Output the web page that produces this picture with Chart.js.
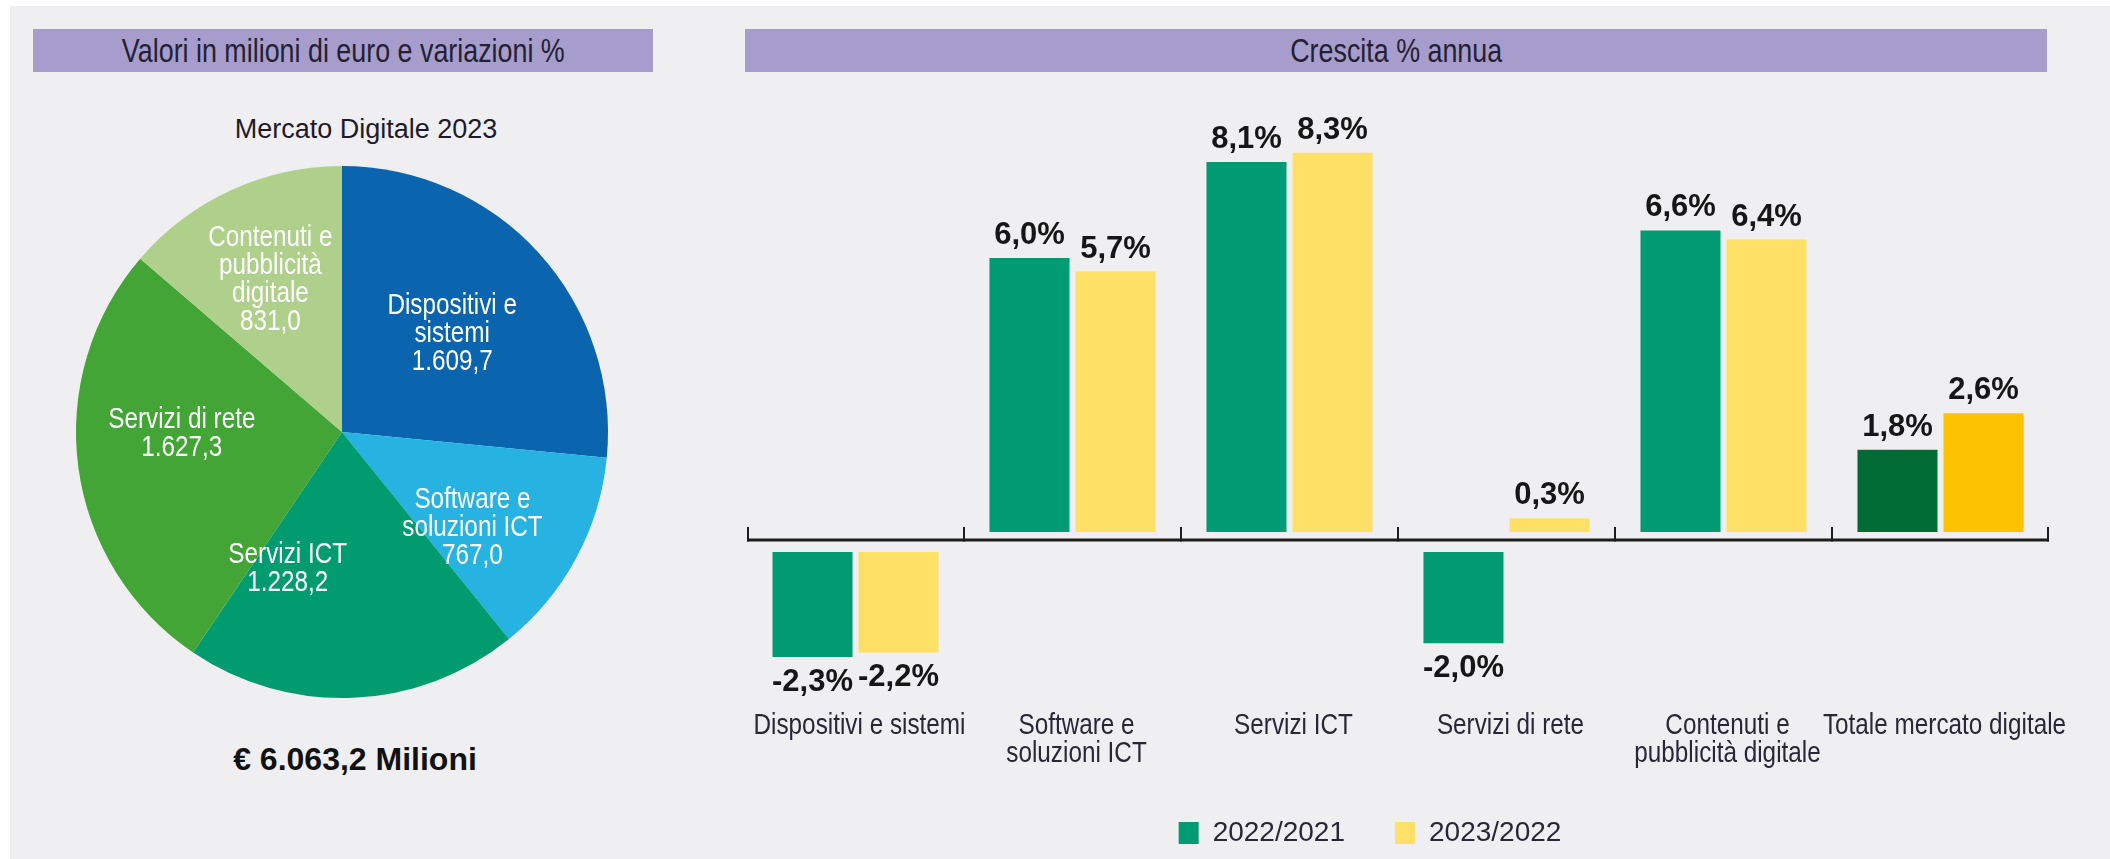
<!DOCTYPE html>
<html>
<head>
<meta charset="utf-8">
<script src="https://cdn.jsdelivr.net/npm/chart.js@4.4.1/dist/chart.umd.min.js"></script>
<style>
  html, body { margin: 0; padding: 0; background: #ffffff; width: 2110px; height: 859px; overflow: hidden; }
  #panel { position: absolute; left: 10px; top: 6px; right: 0; bottom: 0; background: #EFEFF1; }
  .hdr { position: absolute; height: 43px; line-height: 43px; background: #A69DCD; color: #241f33;
         font-family: "Liberation Sans", sans-serif; font-size: 34px; text-align: center; white-space: nowrap; }
  .hdr span { display: inline-block; transform: scaleX(0.79); transform-origin: center; }
  #pieTitle { position: absolute; left: 166px; width: 400px; top: 114px; text-align: center; color: #1e1a2a;
         font-family: "Liberation Sans", sans-serif; font-size: 27px; }
  #total { position: absolute; left: 155px; width: 400px; top: 741px; text-align: center; color: #111;
         font-family: "Liberation Sans", sans-serif; font-size: 32px; font-weight: bold; }
  canvas { position: absolute; top: 0; }
</style>
</head>
<body>
<div id="panel"></div>
<div class="hdr" style="left:33px; top:29px; width:620px;"><span>Valori in milioni di euro e variazioni %</span></div>
<div class="hdr" style="left:745px; top:29px; width:1302px;"><span>Crescita % annua</span></div>
<div id="pieTitle">Mercato Digitale 2023</div>
<div id="total"></div>
<canvas id="pie" width="700" height="859" style="left:0;"></canvas>
<canvas id="bar" width="1410" height="859" style="left:700px;"></canvas>
<script>
// ---------- DATA ----------
const pieLabels = [["Dispositivi e", "sistemi"], ["Software e", "soluzioni ICT"], ["Servizi ICT"], ["Servizi di rete"], ["Contenuti e", "pubblicità", "digitale"]];
const pieValues = [1609.7, 767.0, 1228.2, 1627.3, 831.0];
const totalText = "€ 6.063,2 Milioni";

const barCategories = [["Dispositivi e sistemi"], ["Software e", "soluzioni ICT"], ["Servizi ICT"], ["Servizi di rete"], ["Contenuti e", "pubblicità digitale"], ["Totale mercato digitale"]];
const seriesAName = "2022/2021";
const seriesA = [-2.3, 6.0, 8.1, -2.0, 6.6, 1.8];
const seriesBName = "2023/2022";
const seriesB = [-2.2, 5.7, 8.3, 0.3, 6.4, 2.6];

// ---------- STYLE ----------
const pieColors = ['#0A64AE', '#27B3E2', '#009B6F', '#43A535', '#AFD08A'];
const greenA = '#009B72', greenTotal = '#006B35';
const yellowB = '#FFE066', yellowTotal = '#FDC300';
const SANS = '"Liberation Sans", sans-serif';
const CONDENSE = 0.81;

document.getElementById('total').textContent = totalText;

function fmtIt(v, d) {
  const s = Math.abs(v).toFixed(d);
  let [i, f] = s.split('.');
  i = i.replace(/\B(?=(\d{3})+(?!\d))/g, '.');
  return (v < 0 ? '-' : '') + i + (f ? ',' + f : '');
}

function condensedText(ctx, t, x, y, k) {
  ctx.save();
  ctx.translate(x, y);
  ctx.scale(k, 1);
  ctx.fillText(t, 0, 0);
  ctx.restore();
}

// ---------- PIE ----------
const pieLabelPlugin = {
  id: 'pieLabels',
  afterDatasetsDraw(chart, args, opts) {
    const ctx = chart.ctx;
    const meta = chart.getDatasetMeta(0);
    ctx.save();
    ctx.fillStyle = '#ffffff';
    ctx.font = '30px ' + SANS;
    ctx.textAlign = 'center';
    ctx.textBaseline = 'middle';
    meta.data.forEach((arc, i) => {
      const a = (arc.startAngle + arc.endAngle) / 2;
      const r = arc.outerRadius * 0.6;
      const nudge = opts.nudge[i] || [0, 0];
      const cx = arc.x + Math.cos(a) * r + nudge[0];
      const cy = arc.y + Math.sin(a) * r + nudge[1];
      const lines = pieLabels[i].concat([fmtIt(pieValues[i], 1)]);
      const lh = 28;
      const y0 = cy - (lines.length - 1) * lh / 2;
      lines.forEach((t, j) => condensedText(ctx, t, cx, y0 + j * lh, CONDENSE));
    });
    ctx.restore();
  }
};

new Chart(document.getElementById('pie'), {
  type: 'pie',
  data: {
    labels: pieLabels.map(l => l.join(' ')),
    datasets: [{ data: pieValues, backgroundColor: pieColors, borderWidth: 0 }]
  },
  options: {
    responsive: false,
    animation: false,
    events: [],
    layout: { padding: { left: 76, right: 92, top: 166, bottom: 161 } },
    plugins: {
      legend: { display: false },
      tooltip: { enabled: false },
      pieLabels: { nudge: [[-8, 9], [-10, 20], [-61, -23], [-2, -20], [-5, -7]] }
    }
  },
  plugins: [pieLabelPlugin]
});

// ---------- BAR ----------
const zeroAxisPlugin = {
  id: 'zeroAxis',
  afterLayout(chart, args, opts) {
    if (chart.legend) { chart.legend.left += opts.legendShift; chart.legend.right += opts.legendShift; }
  },
  afterDatasetsUpdate(chart, args, opts) {
    chart.data.datasets.forEach((ds, di) => {
      chart.getDatasetMeta(di).data.forEach((el, i) => {
        const s = ds.data[i] >= 0 ? -opts.gapUp : opts.gapDown;
        el.y += s;
        el.base += s;
      });
    });
  },
  beforeDatasetsDraw(chart) {
    const { ctx, chartArea, scales: { x, y } } = chart;
    const y0 = y.getPixelForValue(0);
    const n = chart.data.labels.length;
    ctx.save();
    ctx.strokeStyle = '#1d1d1b';
    ctx.lineWidth = 3;
    ctx.beginPath();
    ctx.moveTo(chartArea.left, y0);
    ctx.lineTo(chartArea.right, y0);
    ctx.stroke();
    ctx.lineWidth = 2;
    ctx.beginPath();
    for (let i = 0; i <= n; i++) {
      let xb;
      if (i === 0) xb = chartArea.left + 1;
      else if (i === n) xb = chartArea.right - 1;
      else xb = (x.getPixelForTick(i - 1) + x.getPixelForTick(i)) / 2;
      ctx.moveTo(xb, y0 + 1.5);
      ctx.lineTo(xb, y0 - 13);
    }
    ctx.stroke();
    ctx.restore();
  }
};

const categoryLabelPlugin = {
  id: 'categoryLabels',
  afterDraw(chart) {
    const { ctx, scales: { x } } = chart;
    ctx.save();
    ctx.fillStyle = '#2a2638';
    ctx.font = '30px ' + SANS;
    ctx.textAlign = 'center';
    ctx.textBaseline = 'alphabetic';
    chart.data.labels.forEach((lab, i) => {
      const px = x.getPixelForTick(i) + 4;
      lab.forEach((t, j) => condensedText(ctx, t, px, x.top + 57 + j * 28, CONDENSE));
    });
    ctx.restore();
  }
};

const valueLabelPlugin = {
  id: 'valueLabels',
  afterDatasetsDraw(chart) {
    const ctx = chart.ctx;
    ctx.save();
    ctx.fillStyle = '#161616';
    ctx.font = 'bold 31px ' + SANS;
    ctx.textAlign = 'center';
    ctx.textBaseline = 'alphabetic';
    chart.data.datasets.forEach((ds, di) => {
      chart.getDatasetMeta(di).data.forEach((el, i) => {
        const v = ds.data[i];
        const t = fmtIt(v, 1) + '%';
        if (v >= 0) ctx.fillText(t, el.x, el.y - 14);
        else ctx.fillText(t, el.x, el.y + 34);
      });
    });
    ctx.restore();
  }
};

new Chart(document.getElementById('bar'), {
  type: 'bar',
  data: {
    labels: barCategories,
    datasets: [
      { label: seriesAName, data: seriesA,
        backgroundColor: seriesA.map((v, i) => i === seriesA.length - 1 ? greenTotal : greenA),
        categoryPercentage: 0.793, barPercentage: 0.93 },
      { label: seriesBName, data: seriesB,
        backgroundColor: seriesB.map((v, i) => i === seriesB.length - 1 ? yellowTotal : yellowB),
        categoryPercentage: 0.793, barPercentage: 0.93 }
    ]
  },
  options: {
    responsive: false,
    animation: false,
    events: [],
    layout: { padding: { left: 47, right: 61, top: 106, bottom: 2 } },
    scales: {
      x: {
        grid: { display: false, drawTicks: false },
        border: { display: false },
        ticks: { display: false },
        afterFit(scale) { scale.height = 92; }
      },
      y: { display: false, min: -3, max: 9.5 }
    },
    plugins: {
      tooltip: { enabled: false },
      zeroAxis: { gapUp: 8, gapDown: 12, legendShift: -28 },
      legend: {
        position: 'bottom',
        labels: {
          generateLabels(chart) {
            return chart.data.datasets.map((ds, i) => ({
              text: ds.label,
              fillStyle: i === 0 ? greenA : yellowB,
              strokeStyle: 'rgba(0,0,0,0)',
              lineWidth: 0,
              fontColor: '#2a2638',
              datasetIndex: i
            }));
          },
          color: '#2a2638',
          font: { family: SANS, size: 28 },
          boxWidth: 20,
          boxHeight: 22,
          padding: 50
        }
      }
    }
  },
  plugins: [zeroAxisPlugin, valueLabelPlugin, categoryLabelPlugin]
});
</script>
</body>
</html>
